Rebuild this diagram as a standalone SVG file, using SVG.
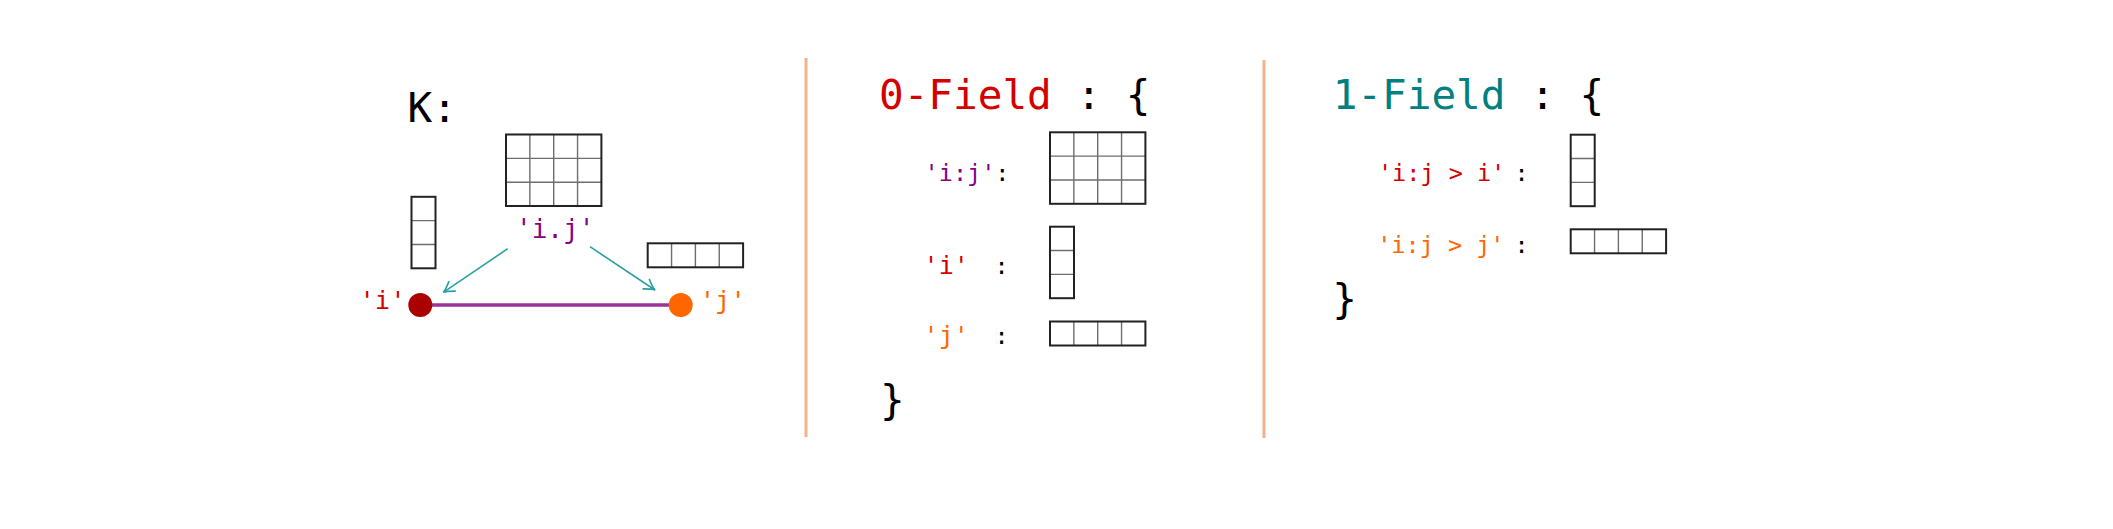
<svg xmlns="http://www.w3.org/2000/svg" width="2113" height="529" viewBox="0 0 2113 529">
<defs>
<style>
text{font-family:"DejaVu Sans Mono","Liberation Mono",monospace;}
.big{font-size:41px;fill:#000;}
.lab{font-size:23.5px;}
.kl{font-size:25.5px;}
.red{fill:#d40000;}
.org{fill:#ff6600;}
.pur{fill:#880088;}
.teal{fill:#008080;}
.blk{fill:#000;}
.outer{fill:none;stroke:#222;stroke-width:2;}
.inner{stroke:#6e6e6e;stroke-width:1.4;}
.sep{stroke:#f2b28c;stroke-width:3;}
.arr{stroke:#2aa0a0;stroke-width:1.6;fill:none;}
</style>
<marker id="ah" viewBox="-14 -8 16 16" refX="0" refY="0" markerWidth="16" markerHeight="16" markerUnits="userSpaceOnUse" orient="auto">
<path d="M-11,-6 Q-3,-0.5 0,0 Q-3,0.5 -11,6" fill="none" stroke="#2aa0a0" stroke-width="1.6"/>
</marker>
</defs>
<rect width="2113" height="529" fill="#fff"/>

<g id="separators">
<line class="sep" x1="806" y1="58" x2="806" y2="437"/>
<line class="sep" x1="1264" y1="60" x2="1264" y2="438"/>
</g>

<g id="k-panel">
<text class="big" x="407.5" y="122">K:</text>
</g>

<g id="k-grid-ij">
<path class="inner" d="M529.85,134.5V206M553.7,134.5V206M577.55,134.5V206M506,158.35H601.4M506,182.2H601.4"/>
<rect class="outer" x="506" y="134.5" width="95.4" height="71.5"/>
</g>
<g id="k-vec-i">
<path class="inner" d="M411.5,220.65H435.5M411.5,244.5H435.5"/>
<rect class="outer" x="411.5" y="196.8" width="24" height="71.5"/>
</g>
<g id="k-vec-j">
<path class="inner" d="M671.55,243.3V267.3M695.4,243.3V267.3M719.25,243.3V267.3"/>
<rect class="outer" x="647.7" y="243.3" width="95.4" height="24"/>
</g>

<g id="connectors">
<line x1="420" y1="305" x2="681" y2="305" stroke="#993399" stroke-width="3.5"/>
<line class="arr" x1="507.7" y1="248.7" x2="443.3" y2="292.3" marker-end="url(#ah)"/>
<line class="arr" x1="590" y1="246.7" x2="655" y2="290" marker-end="url(#ah)"/>
</g>

<g id="node-i">
<circle cx="420.3" cy="305" r="12" fill="#aa0000"/>
<text class="kl red" x="382.5" y="309" text-anchor="middle">'i'</text>
</g>
<g id="node-j">
<circle cx="680.7" cy="305" r="12" fill="#ff6600"/>
<text class="kl org" x="722.8" y="309" text-anchor="middle">'j'</text>
</g>
<g id="label-ij">
<text class="kl pur" x="555.2" y="238" text-anchor="middle" style="font-size:26px">'i.j'</text>
</g>

<g id="field0">
<text class="big" x="879" y="109.3"><tspan class="red">0-Field</tspan><tspan class="blk"> : {</tspan></text>
<text class="lab pur" x="924.6" y="180.7">'i:j'<tspan class="blk">:</tspan></text>
<text class="lab red" x="946.2" y="274" text-anchor="middle" style="font-size:25px">'i'</text>
<text class="lab blk" x="1001.7" y="274" text-anchor="middle">:</text>
<text class="lab org" x="946.2" y="344" text-anchor="middle" style="font-size:25px">'j'</text>
<text class="lab blk" x="1001.7" y="344" text-anchor="middle">:</text>
<text class="big" x="892.3" y="413.5" text-anchor="middle">}</text>
</g>
<g id="field0-grid-ij">
<path class="inner" d="M1073.85,132.3V203.8M1097.7,132.3V203.8M1121.55,132.3V203.8M1050,156.15H1145.4M1050,180H1145.4"/>
<rect class="outer" x="1050" y="132.3" width="95.4" height="71.5"/>
</g>
<g id="field0-vec-i">
<path class="inner" d="M1050,250.55H1074M1050,274.4H1074"/>
<rect class="outer" x="1050" y="226.7" width="24" height="71.5"/>
</g>
<g id="field0-vec-j">
<path class="inner" d="M1073.85,321.5V345.5M1097.7,321.5V345.5M1121.55,321.5V345.5"/>
<rect class="outer" x="1050" y="321.5" width="95.4" height="24"/>
</g>

<g id="field1">
<text class="big" x="1332.7" y="109.3"><tspan class="teal">1-Field</tspan><tspan class="blk"> : {</tspan></text>
<text class="lab red" x="1377.9" y="180.7">'i:j &gt; i'</text>
<text class="lab blk" x="1521.7" y="180.7" text-anchor="middle">:</text>
<text class="lab org" x="1377.2" y="253">'i:j &gt; j'</text>
<text class="lab blk" x="1521.7" y="253" text-anchor="middle">:</text>
<text class="big" x="1344.7" y="313" text-anchor="middle">}</text>
</g>
<g id="field1-vec-i">
<path class="inner" d="M1570.7,158.55H1594.7M1570.7,182.4H1594.7"/>
<rect class="outer" x="1570.7" y="134.7" width="24" height="71.5"/>
</g>
<g id="field1-vec-j">
<path class="inner" d="M1594.55,229.3V253.3M1618.4,229.3V253.3M1642.25,229.3V253.3"/>
<rect class="outer" x="1570.7" y="229.3" width="95.4" height="24"/>
</g>
</svg>
